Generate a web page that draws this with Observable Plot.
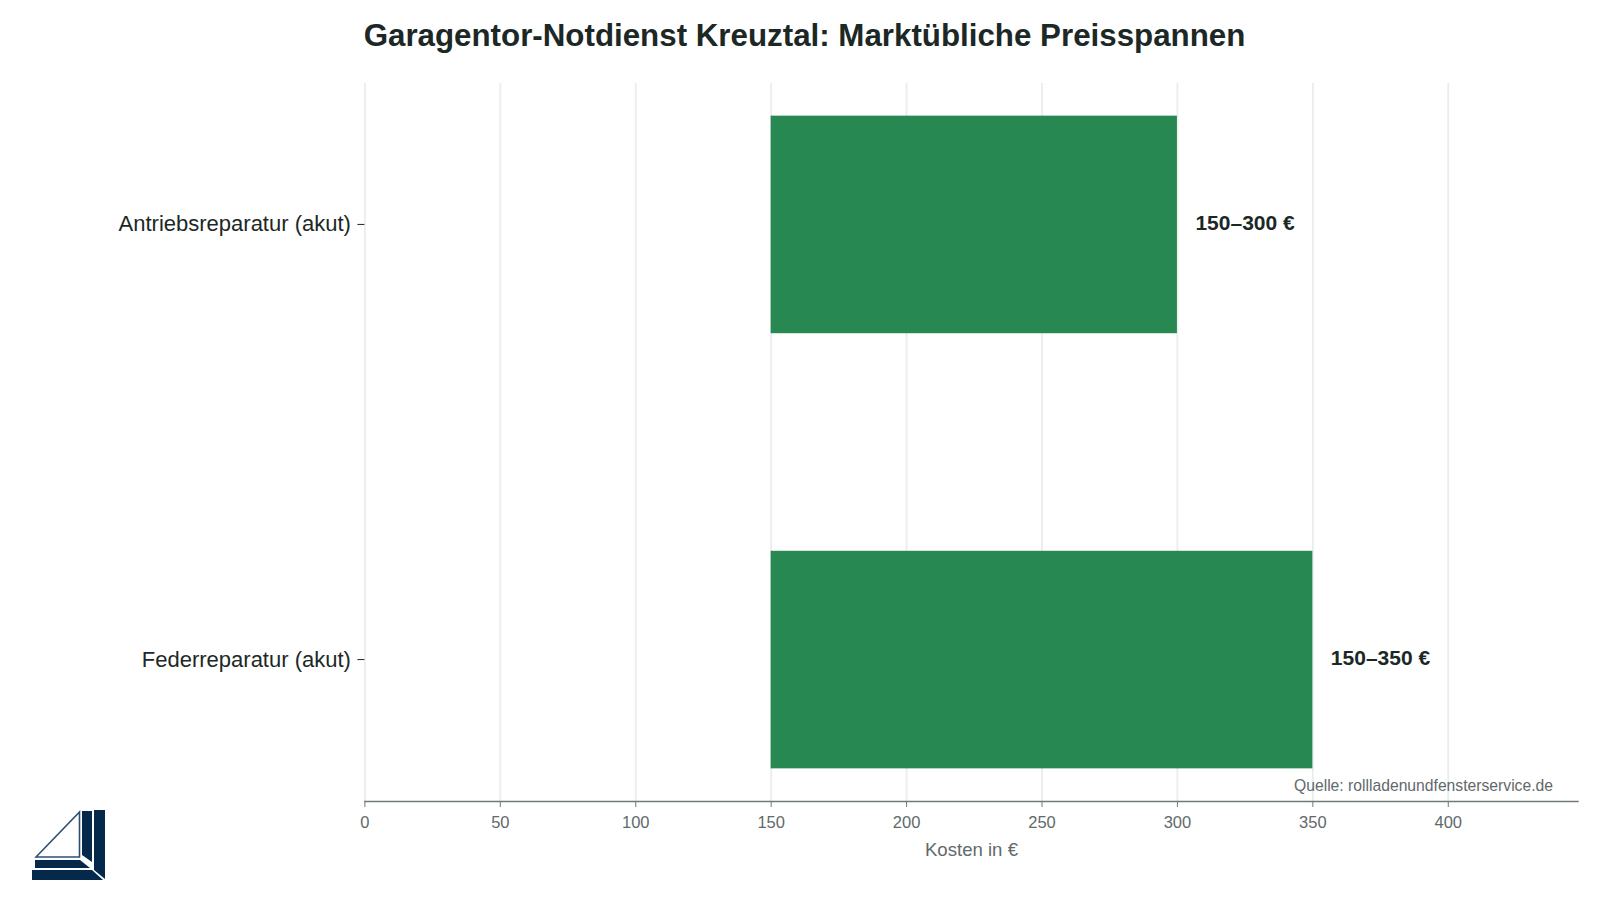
<!DOCTYPE html>
<html lang="de"><head><meta charset="utf-8">
<script src="https://cdn.jsdelivr.net/npm/d3@7"></script>
<script src="https://cdn.jsdelivr.net/npm/@observablehq/plot@0.6"></script>
<style>
html,body{margin:0;padding:0;background:#fff}
#wrap{position:relative;width:1600px;height:900px;overflow:hidden;font-family:"Liberation Sans",Arial,sans-serif}
#title{position:absolute;left:0;top:16px;width:1609px;text-align:center;font-size:31.3px;font-weight:700;color:#1c2826;line-height:40px}
#source{position:absolute;right:47px;top:776px;font-size:15.7px;color:#5f6a6a;line-height:20px}
#logo{position:absolute;left:30px;top:808px}
#chart{position:absolute;left:0;top:0}
#chart svg{display:block}
</style></head><body>
<div id="wrap">
<div id="chart"></div>
<div id="title">Garagentor-Notdienst Kreuztal: Marktübliche Preisspannen</div>
<div id="source">Quelle: rollladenundfensterservice.de</div>
<svg id="logo" width="80" height="75" viewBox="0 0 80 75">
<g fill="#05294b">
<path d="M52 3 L62 3 L62 54 L52 47Z"/>
<path d="M64 2 L75 2 L75 71 L64 62Z"/>
<path d="M5 52 L50 52 L60 60 L5 60Z"/>
<path d="M2 62 L62 62 L73 72 L2 72Z"/>
</g>
<path d="M6 49 L49.5 4 L49.5 49 Z" fill="none" stroke="#2f4f6f" stroke-width="1.6"/>
</svg>
</div>
<script>
const categories = ["Antriebsreparatur (akut)", "Federreparatur (akut)"];
const lowValues = [150, 150];
const highValues = [300, 350];
const rangeLabels = ["150–300 €", "150–350 €"];
const xTicks = [0, 50, 100, 150, 200, 250, 300, 350, 400];
const xTitle = ["Kosten in €"];
const xMax = 447.9;
const rows = categories.map((c, i) => ({c, lo: lowValues[i], hi: highValues[i], label: rangeLabels[i]}));

const plot = Plot.plot({
  width: 1600, height: 900,
  marginLeft: 364.4, marginRight: 22.5, marginTop: 83, marginBottom: 99,
  style: {fontFamily: '"Liberation Sans",Arial,sans-serif', background: "#fff"},
  x: {domain: [0, xMax], ticks: xTicks},
  y: {domain: categories, round: false, paddingInner: 0.5, paddingOuter: 0.075, label: null},
  marks: [
    Plot.gridX(xTicks, {stroke: "#e9eded", strokeOpacity: 1, strokeWidth: 1.8}),
    Plot.barX(rows, {x1: "lo", x2: "hi", y: "c", fill: "#1c8248", fillOpacity: 0.95}),
    Plot.text(rows, {x: "hi", y: "c", text: "label", textAnchor: "start", dx: 18, dy: -2, fontSize: 21, fontWeight: 700, fill: "#1c2826"}),
    Plot.frame({anchor: "bottom", stroke: "#6f7b7a", strokeWidth: 1.5}),
    Plot.axisX(xTicks, {anchor: "bottom", tickSize: 6, tickPadding: 9, fontSize: 16.5, color: "#5f6a6a", stroke: "#6f7b7a", label: null, tickFormat: d => String(d)}),
    Plot.text(xTitle, {frameAnchor: "bottom", dy: 54, text: d => d, fontSize: 18.6, fill: "#5f6a6a"}),
    Plot.axisY({anchor: "left", tickSize: 7, tickPadding: 7, fontSize: 22, dy: -0.5, color: "#1c2826", stroke: "#1c2826", label: null})
  ]
});
document.getElementById("chart").append(plot);
</script>
</body></html>
